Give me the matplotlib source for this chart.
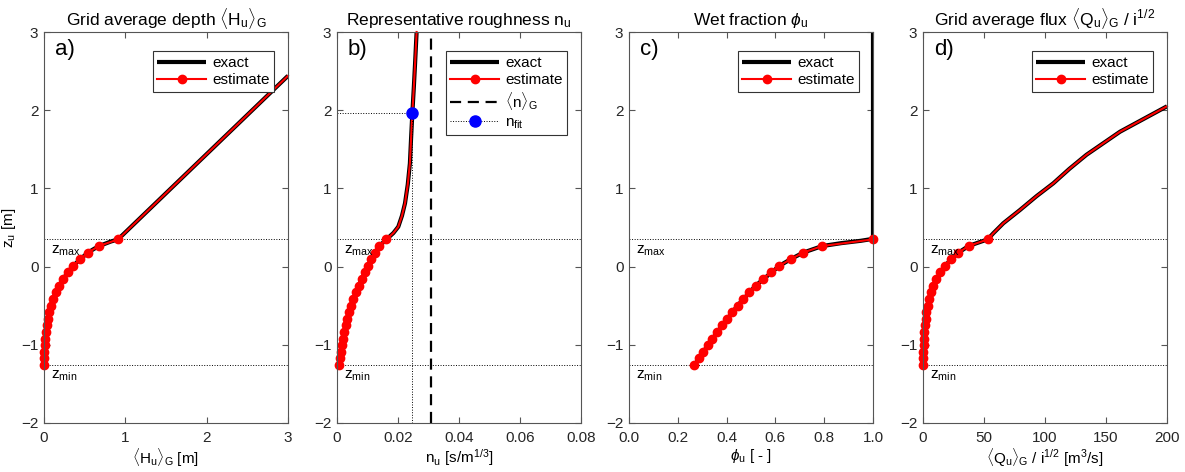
import matplotlib
matplotlib.use('Agg')
import matplotlib.pyplot as plt

plt.rcParams['font.family'] = ['Liberation Sans', 'DejaVu Sans']
plt.rcParams['mathtext.fontset'] = 'custom'
plt.rcParams['mathtext.rm'] = 'Liberation Sans'
plt.rcParams['mathtext.it'] = 'Liberation Sans:italic'

''' Dados lidos da figura '''
z_max = 0.35
z_min = -1.26

# pontos da estimativa (mesmos niveis z em todos os paineis)
z_est = [-1.26, -1.175, -1.091, -1.006, -0.921, -0.837, -0.752, -0.667, -0.583, -0.498,
         -0.414, -0.329, -0.244, -0.160, -0.075, 0.009, 0.094, 0.179, 0.263, 0.348]

H_est = [0.0, 0.002, 0.005, 0.009, 0.014, 0.021, 0.031, 0.045, 0.062, 0.083,
         0.11, 0.143, 0.185, 0.235, 0.29, 0.36, 0.445, 0.54, 0.675, 0.91]
n_est = [0.0007, 0.0009, 0.0012, 0.0015, 0.0019, 0.0023, 0.0028, 0.0033, 0.0039, 0.0046,
         0.0054, 0.0062, 0.0071, 0.0081, 0.0091, 0.0101, 0.0112, 0.0125, 0.0139, 0.0162]
phi_est = [0.268, 0.287, 0.305, 0.323, 0.342, 0.362, 0.382, 0.402, 0.423, 0.445,
           0.468, 0.492, 0.519, 0.549, 0.58, 0.616, 0.662, 0.714, 0.792, 1.0]
Q_est = [0.0, 0.1, 0.3, 0.5, 0.8, 1.1, 1.5, 2.1, 2.8, 3.8,
         5.0, 6.6, 8.6, 11.0, 14.0, 17.8, 22.8, 29.0, 37.4, 53.0]

# curvas exatas
z_H_ex = [-1.26, -1.091, -0.921, -0.752, -0.583, -0.414, -0.244, -0.075, 0.009, 0.094,
          0.179, 0.23, 0.28, 0.32, 0.348, 2.44]
H_ex = [0.0, 0.005, 0.014, 0.031, 0.062, 0.11, 0.185, 0.29, 0.36, 0.445,
        0.54, 0.62, 0.72, 0.82, 0.91, 3.0]

z_n_ex = [-1.26, -1.006, -0.752, -0.498, -0.244, 0.009, 0.179, 0.263, 0.348, 0.43, 0.51,
          0.65, 0.81, 1.05, 1.32, 1.65, 1.96, 2.3, 2.6, 3.0]
n_ex = [0.0007, 0.0015, 0.0028, 0.0046, 0.0071, 0.0101, 0.0125, 0.0139, 0.0162, 0.0185, 0.0201,
        0.0213, 0.0223, 0.0232, 0.0239, 0.0243, 0.0247, 0.0252, 0.0256, 0.0261]

z_phi_ex = [-1.26, -1.006, -0.752, -0.498, -0.244, 0.009, 0.094, 0.179, 0.263, 0.30, 0.33, 0.355, 3.0]
phi_ex = [0.268, 0.323, 0.382, 0.445, 0.519, 0.616, 0.662, 0.714, 0.792, 0.87, 0.95, 1.0, 1.0]

z_Q_ex = [-1.26, -1.006, -0.752, -0.498, -0.244, 0.009, 0.179, 0.263, 0.30, 0.348, 0.426, 0.554,
          0.724, 0.9, 1.065, 1.25, 1.43, 1.725, 2.05]
Q_ex = [0.0, 0.5, 1.5, 3.8, 8.6, 17.8, 29.0, 37.4, 44.0, 53.0, 57.6, 65.8,
        79.5, 93.0, 106.8, 120.0, 134.0, 161.5, 200.0]

n_G = 0.0309
n_fit = 0.0247
z_fit = 1.96

titles = [r'Grid average depth $\langle\mathrm{H_u}\rangle_\mathrm{G}$',
          r'Representative roughness n$_\mathrm{u}$',
          r'Wet fraction $\phi_\mathrm{u}$',
          r'Grid average flux $\langle\mathrm{Q_u}\rangle_\mathrm{G}$ / i$^{1/2}$']
xlabels = [r'$\langle\mathrm{H_u}\rangle_\mathrm{G}$ [m]',
           r'n$_\mathrm{u}$ [s/m$^{1/3}$]',
           r'$\phi_\mathrm{u}$ [ - ]',
           r'$\langle\mathrm{Q_u}\rangle_\mathrm{G}$ / i$^{1/2}$ [m$^3$/s]']
letters = ['a)', 'b)', 'c)', 'd)']
xlims = [(0, 3), (0, 0.08), (0, 1), (0, 200)]
xticks = [[0, 1, 2, 3], [0, 0.02, 0.04, 0.06, 0.08], [0, 0.2, 0.4, 0.6, 0.8, 1.0], [0, 50, 100, 150, 200]]
xticklabels = [['0', '1', '2', '3'], ['0', '0.02', '0.04', '0.06', '0.08'],
               ['0.0', '0.2', '0.4', '0.6', '0.8', '1.0'], ['0', '50', '100', '150', '200']]

est = [H_est, n_est, phi_est, Q_est]
ex_x = [H_ex, n_ex, phi_ex, Q_ex]
ex_z = [z_H_ex, z_n_ex, z_phi_ex, z_Q_ex]
# a estimativa segue a curva exata acima de z_max (menos no painel c)
follow = [True, True, False, True]

lefts = [44, 337, 629, 923]
frame = '#555555'

fig = plt.figure(figsize=(11.85, 4.72), dpi=100)

for i in range(4):
    ax = fig.add_axes([lefts[i] / 1185, 49 / 472, 244 / 1185, 391 / 472])
    ax.axhline(z_max, color='k', ls=':', lw=0.7)
    ax.axhline(z_min, color='k', ls=':', lw=0.7)
    ax.plot(ex_x[i], ex_z[i], color='k', lw=3, label='exact', solid_capstyle='butt')
    xs = list(est[i])
    zs = list(z_est)
    if follow[i]:
        for xv, zv in zip(ex_x[i], ex_z[i]):
            if zv > z_max + 0.01:
                xs.append(xv)
                zs.append(zv)
    ax.plot(xs, zs, color='red', lw=1.5, marker='o', ms=6, markevery=list(range(len(z_est))),
            label='estimate', clip_on=False)
    if i == 1:
        ax.axvline(n_G, color='k', ls=(0, (5, 3)), lw=1.6, label=r'$\langle$n$\rangle_\mathrm{G}$')
        ax.plot([n_fit, n_fit], [-2, z_fit], color='k', ls=':', lw=0.7)
        ax.plot([0, n_fit], [z_fit, z_fit], color='k', ls=':', lw=0.7)
        ax.plot([n_fit], [z_fit], color='k', ls=':', lw=0.7, marker='o', ms=8,
                mfc='blue', mec='blue', label=r'n$_\mathrm{fit}$')
    ax.set_xlim(xlims[i])
    ax.set_ylim(-2, 3)
    ax.set_xticks(xticks[i])
    ax.set_xticklabels(xticklabels[i])
    ax.set_yticks([-2, -1, 0, 1, 2, 3])
    ax.tick_params(direction='in', top=True, right=True, labelsize=11, length=4,
                   color=frame, labelcolor='#262626')
    ax.tick_params(axis='x', pad=6)
    ax.tick_params(axis='y', pad=4)
    for s in ax.spines.values():
        s.set_color(frame)
    ax.set_title(titles[i], fontsize=12.5, pad=5)
    ax.set_xlabel(xlabels[i], fontsize=11, labelpad=1)
    if i == 0:
        ax.set_ylabel(r'z$_\mathrm{u}$ [m]', fontsize=11, labelpad=2)
    ax.text(0.045, 0.955, letters[i], transform=ax.transAxes, fontsize=16, va='center', ha='left')
    ax.text(0.03, z_max - 0.05, r'z$_\mathrm{max}$', transform=ax.get_yaxis_transform(),
            fontsize=11, va='top', ha='left')
    ax.text(0.03, z_min - 0.05, r'z$_\mathrm{min}$', transform=ax.get_yaxis_transform(),
            fontsize=11, va='top', ha='left')
    leg = ax.legend(loc='upper right', bbox_to_anchor=(0.975, 0.97), fontsize=11, fancybox=False,
                    framealpha=1, edgecolor='#333333', handlelength=3.2, borderpad=0.3,
                    labelspacing=0.2, handletextpad=0.4)
    leg.get_frame().set_linewidth(0.8)

fig.savefig('out.png', dpi=100)
